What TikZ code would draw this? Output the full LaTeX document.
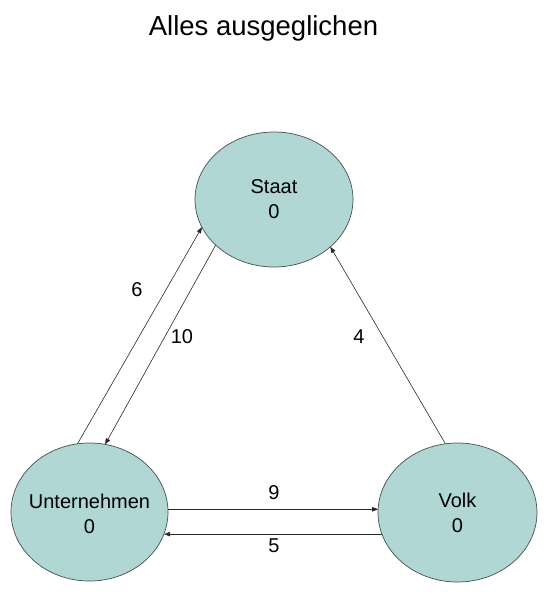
\documentclass[tikz,border=0pt]{standalone}
\usepackage{fontspec}
\setmainfont{Liberation Sans}
\usetikzlibrary{shapes.geometric,arrows.meta}
\definecolor{ellfill}{RGB}{176,215,211}
\definecolor{ellline}{RGB}{70,80,78}
\definecolor{arrline}{RGB}{40,40,40}
\tikzset{
  ell/.style={ellipse, draw=ellline, fill=ellfill, line width=0.7pt, inner sep=0pt, outer sep=0pt},
  txt/.style={align=center, font=\fontsize{20}{25}\selectfont, inner sep=0pt},
  num/.style={font=\fontsize{20}{24}\selectfont, inner sep=0pt},
  flow/.style={draw=arrline, line width=0.6pt, -{Triangle[length=6pt,width=4.5pt]}}
}
\begin{document}
\begin{tikzpicture}[x=1pt,y=-1pt]
\useasboundingbox (0,0) rectangle (547,600);
\node[font=\fontsize{27.5}{32}\selectfont, anchor=base, inner sep=0pt] (title) at (263.5,35) {Alles ausgeglichen};
\node[ell, minimum width=158pt, minimum height=135pt] (S) at (274,199.5) {};
\node[ell, minimum width=157pt, minimum height=138pt] (U) at (89.5,512) {};
\node[ell, minimum width=159pt, minimum height=139pt] (V) at (457.5,512.5) {};
\node[txt] (St) at (S) {Staat\\0};
\node[txt] (Ut) at ([yshift=-2pt]U.center) {Unternehmen\\0};
\node[txt] (Vt) at (V) {Volk\\0};
% arrows
\draw[flow] (U.100.3) -- (S.201.6);
\draw[flow] (S.218.4) -- (U.77.5);
\draw[flow] (V.100.2) -- (S.-40.3);
\draw[flow] (U.2) -- (V.177 |- U.2);
\draw[flow] (V.196) -- (U.-16 |- V.196);
% labels
\node[num] (l6) at (137,290) {6};
\node[num] (l10) at (182,337) {10};
\node[num] (l4) at (359,337) {4};
\node[num] (l9) at (274,493) {9};
\node[num] (l5) at (274,546) {5};
\end{tikzpicture}
\end{document}
